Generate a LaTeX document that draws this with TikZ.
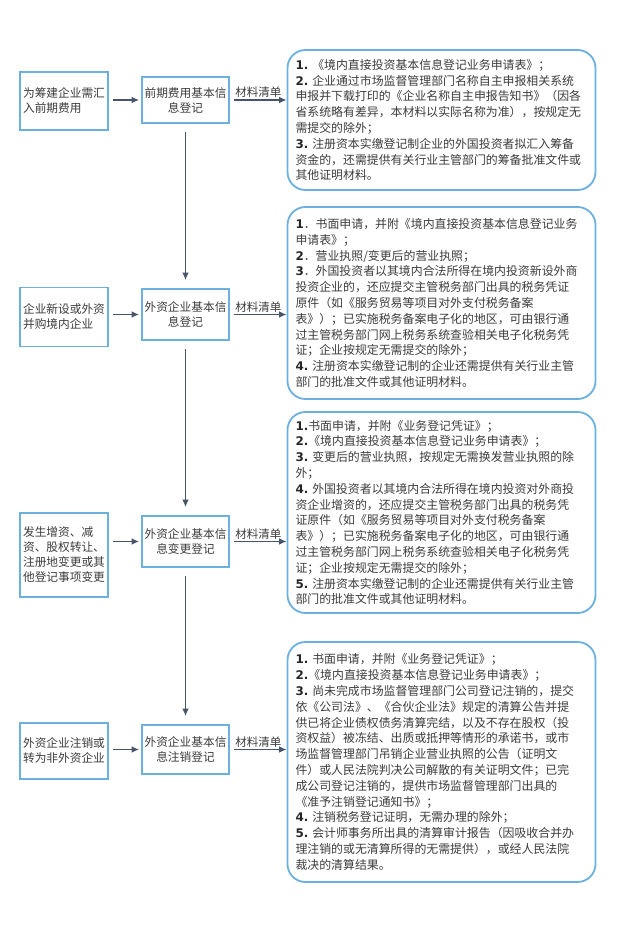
\documentclass[tikz,border=0pt]{standalone}
\usepackage{fontspec}
\setmainfont{Noto Sans CJK SC}
\newfontfamily\numfont{DejaVu Sans}
\usetikzlibrary{arrows.meta,positioning}
\definecolor{ink}{HTML}{3C3C3C}
\definecolor{inknum}{HTML}{262626}
\definecolor{boxblue}{HTML}{6CB0DE}
\definecolor{arrowgray}{HTML}{47556B}
\definecolor{paper}{HTML}{FFFFFF}
\tikzset{
  flowarr/.style={-{Latex[length=7.5pt,width=6.5pt]},line width=1.2pt,color=arrowgray},
  casebox/.style={draw=boxblue,fill=paper,line width=1.8pt,align=left,inner xsep=2pt,minimum width=88pt,text=ink,font=\fontsize{11.7pt}{15pt}\selectfont},
  stepbox/.style={draw=boxblue,fill=paper,line width=1.8pt,align=center,inner xsep=2pt,minimum width=87pt,text=ink,font=\fontsize{11.7pt}{15pt}\selectfont},
  listcard/.style={draw=boxblue,fill=paper,line width=1.8pt,rounded corners=18pt,align=left,text width=292pt,inner xsep=8pt,inner ysep=0pt,text=ink,font=\fontsize{11.9pt}{15.8pt}\selectfont},
  listlabel/.style={inner sep=1.5pt,text=ink,font=\fontsize{11.5pt}{14pt}\selectfont}
}
\newcommand{\itemno}[1]{{\numfont\bfseries\color{inknum}#1}}

\begin{document}
\begin{tikzpicture}[x=1pt,y=-1pt,>=Latex]
  \useasboundingbox[fill=paper] (0,0) rectangle (629,940);

  \node[casebox,minimum height=58pt] (prep) at (64,101) {为筹建企业需汇\\入前期费用};
  \node[stepbox,minimum height=46pt] (prepreg) at (185.5,100) {前期费用基本信\\息登记};
  \node[listcard,minimum height=140pt] (preplist) at (441.5,120)
    {\itemno{1.}~《境内直接投资基本信息登记业务申请表》；\\
     \itemno{2.}~企业通过市场监督管理部门名称自主申报相关系统\\
     申报并下载打印的《企业名称自主申报告知书》（因各\\
     省系统略有差异，本材料以实际名称为准），按规定无\\
     需提交的除外；\\
     \itemno{3.}~注册资本实缴登记制企业的外国投资者拟汇入筹备\\
     资金的，还需提供有关行业主管部门的筹备批准文件或\\
     其他证明材料。};

  \node[casebox,minimum height=59pt] (setup) at (64,317) {企业新设或外资\\并购境内企业};
  \node[stepbox,minimum height=51pt] (basereg) at (185.5,314.5) {外资企业基本信\\息登记};
  \node[listcard,minimum height=192pt] (baselist) at (441.5,303)
    {\itemno{1}．书面申请，并附《境内直接投资基本信息登记业务\\
     申请表》；\\
     \itemno{2}．营业执照/变更后的营业执照；\\
     \itemno{3}．外国投资者以其境内合法所得在境内投资新设外商\\
     投资企业的，还应提交主管税务部门出具的税务凭证\\
     原件（如《服务贸易等项目对外支付税务备案\\
     表》）；已实施税务备案电子化的地区，可由银行通\\
     过主管税务部门网上税务系统查验相关电子化税务凭\\
     证；企业按规定无需提交的除外；\\
     \itemno{4.}~注册资本实缴登记制的企业还需提供有关行业主管\\
     部门的批准文件或其他证明材料。};

  \node[casebox,minimum height=84pt] (change) at (64,555) {发生增资、减\\资、股权转让、\\注册地变更或其\\他登记事项变更};
  \node[stepbox,minimum height=51pt] (changereg) at (185.5,541.5) {外资企业基本信\\息变更登记};
  \node[listcard,minimum height=201pt] (changelist) at (441.5,512.5)
    {\itemno{1.}书面申请，并附《业务登记凭证》；\\
     \itemno{2.}《境内直接投资基本信息登记业务申请表》；\\
     \itemno{3.}~变更后的营业执照，按规定无需换发营业执照的除\\
     外；\\
     \itemno{4.}~外国投资者以其境内合法所得在境内投资对外商投\\
     资企业增资的，还应提交主管税务部门出具的税务凭\\
     证原件（如《服务贸易等项目对外支付税务备案\\
     表》）；已实施税务备案电子化的地区，可由银行通\\
     过主管税务部门网上税务系统查验相关电子化税务凭\\
     证；企业按规定无需提交的除外；\\
     \itemno{5.}~注册资本实缴登记制的企业还需提供有关行业主管\\
     部门的批准文件或其他证明材料。};

  \node[casebox,minimum height=56pt] (close) at (64,751) {外资企业注销或\\转为非外资企业};
  \node[stepbox,minimum height=49pt] (closereg) at (185.5,749.5) {外资企业基本信\\息注销登记};
  \node[listcard,minimum height=240pt] (closelist) at (441.5,762)
    {\itemno{1.}~书面申请，并附《业务登记凭证》；\\
     \itemno{2.}《境内直接投资基本信息登记业务申请表》；\\
     \itemno{3.}~尚未完成市场监督管理部门公司登记注销的，提交\\
     依《公司法》、《合伙企业法》规定的清算公告并提\\
     供已将企业债权债务清算完结，以及不存在股权（投\\
     资权益）被冻结、出质或抵押等情形的承诺书，或市\\
     场监督管理部门吊销企业营业执照的公告（证明文\\
     件）或人民法院判决公司解散的有关证明文件；已完\\
     成公司登记注销的，提供市场监督管理部门出具的\\
     《准予注销登记通知书》；\\
     \itemno{4.}~注销税务登记证明，无需办理的除外；\\
     \itemno{5.}~会计师事务所出具的清算审计报告（因吸收合并办\\
     理注销的或无清算所得的无需提供），或经人民法院\\
     裁决的清算结果。};

  \draw[flowarr,shorten <=4pt,shorten >=2pt] (prep.east |- prepreg.west) -- (prepreg.west);
  \draw[flowarr,shorten <=4pt,shorten >=2pt] (setup.east |- basereg.west) -- (basereg.west);
  \draw[flowarr,shorten <=4pt,shorten >=2pt] (change.east |- changereg.west) -- (changereg.west);
  \draw[flowarr,shorten <=4pt,shorten >=2pt] (close.east |- closereg.west) -- (closereg.west);

  \draw[flowarr,shorten <=4pt] (prepreg.east) -- node[listlabel,above] {材料清单} (prepreg.east -| preplist.west);
  \draw[flowarr,shorten <=4pt] (basereg.east) -- node[listlabel,above] {材料清单} (basereg.east -| baselist.west);
  \draw[flowarr,shorten <=4pt] (changereg.east) -- node[listlabel,above] {材料清单} (changereg.east -| changelist.west);
  \draw[flowarr,shorten <=4pt] (closereg.east) -- node[listlabel,above] {材料清单} (closereg.east -| closelist.west);

  \draw[flowarr,shorten <=8pt,shorten >=8pt] (prepreg.south) -- (basereg.north);
  \draw[flowarr,shorten <=8pt,shorten >=8pt] (basereg.south) -- (changereg.north);
  \draw[flowarr,shorten <=8pt,shorten >=8pt] (changereg.south) -- (closereg.north);
\end{tikzpicture}
\end{document}
